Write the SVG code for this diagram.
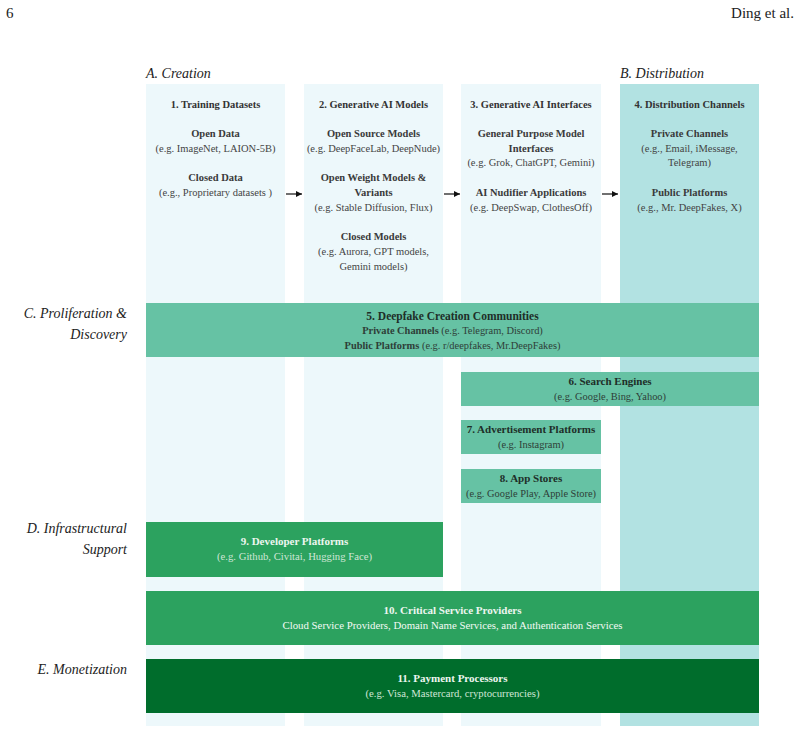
<svg xmlns="http://www.w3.org/2000/svg" width="801" height="733" viewBox="0 0 801 733">
<defs>
<marker id="ah" viewBox="0 0 10 10" refX="10" refY="5" markerWidth="6" markerHeight="6" orient="auto" markerUnits="userSpaceOnUse"><path d="M0,0 L10,5 L0,10 z" fill="#111"/></marker>
<style>
text{font-family:"Liberation Serif","DejaVu Serif",serif;text-anchor:middle;}
.hd{font-size:15px;fill:#222;}
.lab{font-size:14px;font-style:italic;fill:#222;text-anchor:end;}
.labl{font-size:14px;font-style:italic;fill:#222;text-anchor:start;}
.t{font-size:10.5px;font-weight:bold;fill:#333;}
.s{font-size:10.5px;fill:#444;}
.sb{font-size:10.5px;font-weight:bold;fill:#3a3a3a;}
.bt{font-size:11px;font-weight:bold;fill:#1e2e28;}
.bs{font-size:10.4px;fill:#2e3e38;}
.wt{font-size:11px;font-weight:bold;fill:#eef6f0;}
.ws{font-size:10.7px;fill:#cfe6d6;}
.wsw{font-size:10.8px;fill:#f4faf5;}
.c1{fill:#edf8fb;}
.c4{fill:#b2e2e2;}
.g1{fill:#66c2a4;}
.g2{fill:#2ca25f;}
.g3{fill:#006d2c;}
</style>
</defs>
<rect width="801" height="733" fill="#fff"/>
<text class="hd" x="6" y="18" style="text-anchor:start">6</text>
<text class="hd" x="794" y="18" style="text-anchor:end">Ding et al.</text>
<text class="labl" x="146" y="78">A. Creation</text>
<text class="labl" x="620" y="78">B. Distribution</text>
<text class="lab" x="127" y="318">C. Proliferation &amp;</text>
<text class="lab" x="127" y="339">Discovery</text>
<text class="lab" x="127" y="533">D. Infrastructural</text>
<text class="lab" x="127" y="554">Support</text>
<text class="lab" x="127" y="674">E. Monetization</text>

<g id="col1">
<rect class="c1" x="146" y="84" width="139" height="642"/>
<text class="t" x="215.5" y="107.5">1. Training Datasets</text>
<text class="sb" x="215.5" y="136.5">Open Data</text>
<text class="s" x="215.5" y="151.5">(e.g. ImageNet, LAION-5B)</text>
<text class="sb" x="215.5" y="180.5">Closed Data</text>
<text class="s" x="215.5" y="195.5">(e.g., Proprietary datasets )</text>
</g>
<g id="col2">
<rect class="c1" x="304" y="84" width="139" height="642"/>
<text class="t" x="373.5" y="107.5">2. Generative AI Models</text>
<text class="sb" x="373.5" y="136.5">Open Source Models</text>
<text class="s" x="373.5" y="151.5">(e.g. DeepFaceLab, DeepNude)</text>
<text class="sb" x="373.5" y="180.5">Open Weight Models &amp;</text>
<text class="sb" x="373.5" y="195.5">Variants</text>
<text class="s" x="373.5" y="210.5">(e.g. Stable Diffusion, Flux)</text>
<text class="sb" x="373.5" y="239.5">Closed Models</text>
<text class="s" x="373.5" y="254.5">(e.g. Aurora, GPT models,</text>
<text class="s" x="373.5" y="269.5">Gemini models)</text>
</g>
<g id="col3">
<rect class="c1" x="461" y="84" width="140" height="642"/>
<text class="t" x="531" y="107.5">3. Generative AI Interfaces</text>
<text class="sb" x="531" y="136.5">General Purpose Model</text>
<text class="sb" x="531" y="151.5">Interfaces</text>
<text class="s" x="531" y="165.5">(e.g. Grok, ChatGPT, Gemini)</text>
<text class="sb" x="531" y="195.5">AI Nudifier Applications</text>
<text class="s" x="531" y="210.5">(e.g. DeepSwap, ClothesOff)</text>
</g>
<g id="col4">
<rect class="c4" x="620" y="84" width="139" height="642"/>
<text class="t" x="689.5" y="107.5">4. Distribution Channels</text>
<text class="sb" x="689.5" y="136.5">Private Channels</text>
<text class="s" x="689.5" y="151.5">(e.g., Email, iMessage,</text>
<text class="s" x="689.5" y="165.5">Telegram)</text>
<text class="sb" x="689.5" y="195.5">Public Platforms</text>
<text class="s" x="689.5" y="210.5">(e.g., Mr. DeepFakes, X)</text>
</g>

<g id="connectors" stroke="#111" stroke-width="1.2" fill="none">
<line x1="286" y1="194" x2="302" y2="194" marker-end="url(#ah)"/>
<line x1="444" y1="194" x2="460" y2="194" marker-end="url(#ah)"/>
<line x1="602" y1="194" x2="618" y2="194" marker-end="url(#ah)"/>
</g>

<g id="n5">
<rect class="g1" x="146" y="303" width="613" height="54"/>
<text class="bt" x="452.5" y="319.5" style="font-size:11.5px">5. Deepfake Creation Communities</text>
<text class="bs" x="452.5" y="334"><tspan font-weight="bold">Private Channels</tspan> (e.g. Telegram, Discord)</text>
<text class="bs" x="452.5" y="349"><tspan font-weight="bold">Public Platforms</tspan> (e.g. r/deepfakes, Mr.DeepFakes)</text>
</g>
<g id="n6">
<rect class="g1" x="461" y="372" width="298" height="34"/>
<text class="bt" x="610" y="384.5">6. Search Engines</text>
<text class="bs" x="610" y="399.5">(e.g. Google, Bing, Yahoo)</text>
</g>
<g id="n7">
<rect class="g1" x="461" y="420" width="140" height="34"/>
<text class="bt" x="531" y="432.5">7. Advertisement Platforms</text>
<text class="bs" x="531" y="447.5">(e.g. Instagram)</text>
</g>
<g id="n8">
<rect class="g1" x="461" y="469" width="140" height="34"/>
<text class="bt" x="531" y="481.5">8. App Stores</text>
<text class="bs" x="531" y="496.5">(e.g. Google Play, Apple Store)</text>
</g>
<g id="n9">
<rect class="g2" x="146" y="522" width="297" height="55"/>
<text class="wt" x="294.5" y="544.5">9. Developer Platforms</text>
<text class="ws" x="294.5" y="559.5">(e.g. Github, Civitai, Hugging Face)</text>
</g>
<g id="n10">
<rect class="g2" x="146" y="591" width="613" height="54"/>
<text class="wt" x="452.5" y="613.5">10. Critical Service Providers</text>
<text class="wsw" x="452.5" y="628.5">Cloud Service Providers, Domain Name Services, and Authentication Services</text>
</g>
<g id="n11">
<rect class="g3" x="146" y="659" width="613" height="54"/>
<text class="wt" x="452.5" y="681.5">11. Payment Processors</text>
<text class="ws" x="452.5" y="696.5">(e.g. Visa, Mastercard, cryptocurrencies)</text>
</g>
</svg>
